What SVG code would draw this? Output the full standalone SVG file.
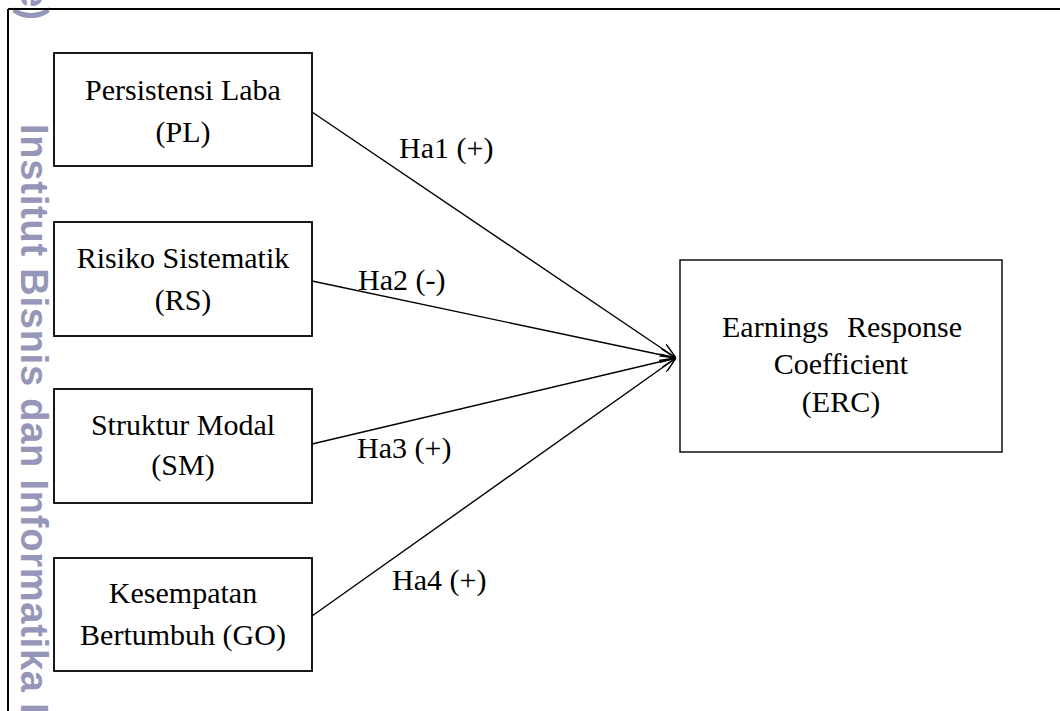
<svg xmlns="http://www.w3.org/2000/svg" width="1060" height="711" viewBox="0 0 1060 711">
<style>
.box{fill:#fff;stroke:#000;stroke-width:1.8}
.t{font-family:"Liberation Serif","Times New Roman",serif;font-size:30px;fill:#000}
.c{text-anchor:middle}
.lbl{font-family:"Liberation Serif","Times New Roman",serif;font-size:30px;fill:#000}
.wm{font-family:"Liberation Sans",Arial,sans-serif;font-weight:bold;font-size:38px;fill:#9696b9}
.conn{stroke:#000;stroke-width:1.4;fill:none}
</style>
<defs>
<marker id="arr" markerUnits="userSpaceOnUse" viewBox="0 0 16 12" refX="16" refY="6" markerWidth="16" markerHeight="12" orient="auto">
<path d="M0,0 L16,6 L0,12" fill="none" stroke="#000" stroke-width="1.5"/>
</marker>
</defs>
<rect width="1060" height="711" fill="#fff"/>
<g id="watermark">
<text class="wm" text-anchor="end" transform="translate(21,20) rotate(90)">Gie)</text>
<text class="wm" transform="translate(21,124) rotate(90)"><tspan textLength="568" lengthAdjust="spacing">Institut Bisnis dan Informatika</tspan> K</text>
</g>
<g id="frame">
<path d="M8,9 H1060 M8,9 V711" stroke="#000" stroke-width="2" fill="none"/>
</g>
<g id="connectors">
<line class="conn" x1="312" y1="112" x2="676" y2="358" marker-end="url(#arr)"/>
<line class="conn" x1="312" y1="281" x2="676" y2="358" marker-end="url(#arr)"/>
<line class="conn" x1="312" y1="444" x2="676" y2="358" marker-end="url(#arr)"/>
<line class="conn" x1="312" y1="616" x2="676" y2="358" marker-end="url(#arr)"/>
<text class="lbl" x="399" y="158">Ha1 (+)</text>
<text class="lbl" x="358" y="290">Ha2 (-)</text>
<text class="lbl" x="357" y="458">Ha3 (+)</text>
<text class="lbl" x="392" y="590">Ha4 (+)</text>
</g>
<g id="node-PL">
<rect class="box" x="54" y="53" width="258" height="113"/>
<text class="t c" x="183" y="100">Persistensi Laba</text>
<text class="t c" x="183" y="142">(PL)</text>
</g>
<g id="node-RS">
<rect class="box" x="54" y="222" width="258" height="114"/>
<text class="t c" x="183" y="268">Risiko Sistematik</text>
<text class="t c" x="183" y="310">(RS)</text>
</g>
<g id="node-SM">
<rect class="box" x="54" y="389" width="258" height="114"/>
<text class="t c" x="183" y="435">Struktur Modal</text>
<text class="t c" x="183" y="475">(SM)</text>
</g>
<g id="node-GO">
<rect class="box" x="54" y="558" width="258" height="113"/>
<text class="t c" x="183" y="603">Kesempatan</text>
<text class="t c" x="183" y="645">Bertumbuh (GO)</text>
</g>
<g id="node-ERC">
<rect class="box" x="680" y="260" width="322" height="192" style="stroke-width:1.4"/>
<text class="t" x="722" y="337">Earnings</text>
<text class="t" x="962" y="337" text-anchor="end">Response</text>
<text class="t c" x="841" y="374">Coefficient</text>
<text class="t c" x="841" y="412">(ERC)</text>
</g>
</svg>
